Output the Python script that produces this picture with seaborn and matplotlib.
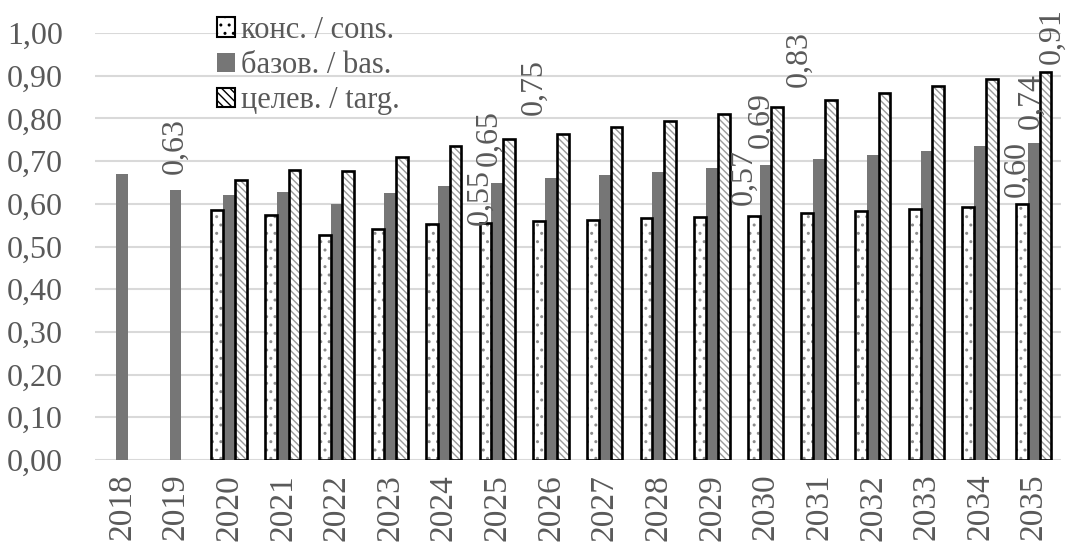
import numpy as np
import pandas as pd
import seaborn as sns
import matplotlib.pyplot as plt
from matplotlib.patches import Rectangle, Patch
from matplotlib.ticker import FuncFormatter

# данные
years = [str(y) for y in range(2018, 2036)]
cons = [np.nan, np.nan, 0.585, 0.574, 0.527, 0.541, 0.553, 0.554, 0.560, 0.562,
        0.566, 0.568, 0.571, 0.578, 0.584, 0.589, 0.592, 0.600]
bas = [0.670, 0.633, 0.620, 0.627, 0.600, 0.625, 0.642, 0.650, 0.660, 0.667,
       0.675, 0.685, 0.692, 0.705, 0.715, 0.724, 0.736, 0.743]
targ = [np.nan, np.nan, 0.656, 0.680, 0.676, 0.710, 0.736, 0.752, 0.763, 0.780,
        0.793, 0.810, 0.826, 0.843, 0.860, 0.877, 0.893, 0.910]
series = ['конс. / cons.', 'базов. / bas.', 'целев. / targ.']

# подписи значений: (год, ряд, сдвиг x, сдвиг y в пикселях)
labels = [('2019', 1, 0, 16),
          ('2025', 0, -5, -2), ('2025', 1, -8, 17), ('2025', 2, 25, 24),
          ('2030', 0, -10, 11), ('2030', 1, -4, 17), ('2030', 2, 22, 20),
          ('2035', 0, -5, 7), ('2035', 1, -3, 14), ('2035', 2, 7, 8)]

df = pd.DataFrame({'year': years * 3,
                   'value': cons + bas + targ,
                   'series': np.repeat(series, len(years))})

sns.set_theme(style='white')
plt.rcParams['font.family'] = ['Liberation Serif', 'DejaVu Serif']
grey_txt = '#595959'

fig = plt.figure(figsize=(10.68, 5.43), dpi=100)
ax = fig.add_axes([0.089, 0.153, 0.904, 0.786])

sns.barplot(data=df, x='year', y='value', hue='series', hue_order=series,
            palette=['white', '#767676', 'white'], width=0.66, ax=ax,
            legend=False, errorbar=None, saturation=1)

# штриховка и контуры
hatches = ['..', None, '\\\\\\\\\\']
hatch_cols = ['#8c8c8c', None, '#9a9a9a']
bars_by = {}
for i, cont in enumerate(ax.containers):
    for bar in cont:
        cat = int(round(bar.get_x() + bar.get_width() / 2))
        bars_by[(years[cat], i)] = bar
        bar.set_linewidth(0)
        if i == 1:
            continue
        bar.set_hatch(hatches[i])
        bar.set_edgecolor(hatch_cols[i])
        ax.add_patch(Rectangle(bar.get_xy(), bar.get_width(), bar.get_height(),
                               fill=False, edgecolor='black', lw=1.9, zorder=3))

for year, s, dx, dy in labels:
    bar = bars_by[(year, s)]
    val = bar.get_height()
    ax.annotate(f'{val:.2f}'.replace('.', ','),
                (bar.get_x() + bar.get_width() / 2, val),
                xytext=(dx, dy), textcoords='offset pixels',
                rotation=90, ha='center', va='bottom',
                fontsize=23, color=grey_txt)

ax.set_ylim(0, 1)
ax.set_yticks(np.arange(0, 1.01, 0.1))
ax.yaxis.set_major_formatter(FuncFormatter(lambda v, p: f'{v:.2f}'.replace('.', ',')))
ax.set_xlim(-0.5, len(years) - 0.5)
ax.grid(axis='y', color='#d9d9d9', lw=1.5)
ax.set_axisbelow(True)
for sp in ax.spines.values():
    sp.set_visible(False)
ax.set_xlabel('')
ax.set_ylabel('')
ax.tick_params(axis='y', labelsize=23, labelcolor=grey_txt, pad=23, length=0)
ax.tick_params(axis='x', labelsize=24, labelcolor=grey_txt, rotation=90, pad=10, length=0)

handles = [Patch(facecolor='white', edgecolor='black', hatch='..', lw=1.5),
           Patch(facecolor='#767676', edgecolor='none'),
           Patch(facecolor='white', edgecolor='black', hatch='\\\\\\\\', lw=1.5)]
fig.legend(handles, series, loc='upper left', bbox_to_anchor=(0.183, 1.01),
           frameon=False, fontsize=22, handlelength=0.6, handleheight=0.6,
           handletextpad=0.2, labelspacing=0.2, borderpad=0.2,
           labelcolor=grey_txt)

fig.savefig('out.png', dpi=100)
